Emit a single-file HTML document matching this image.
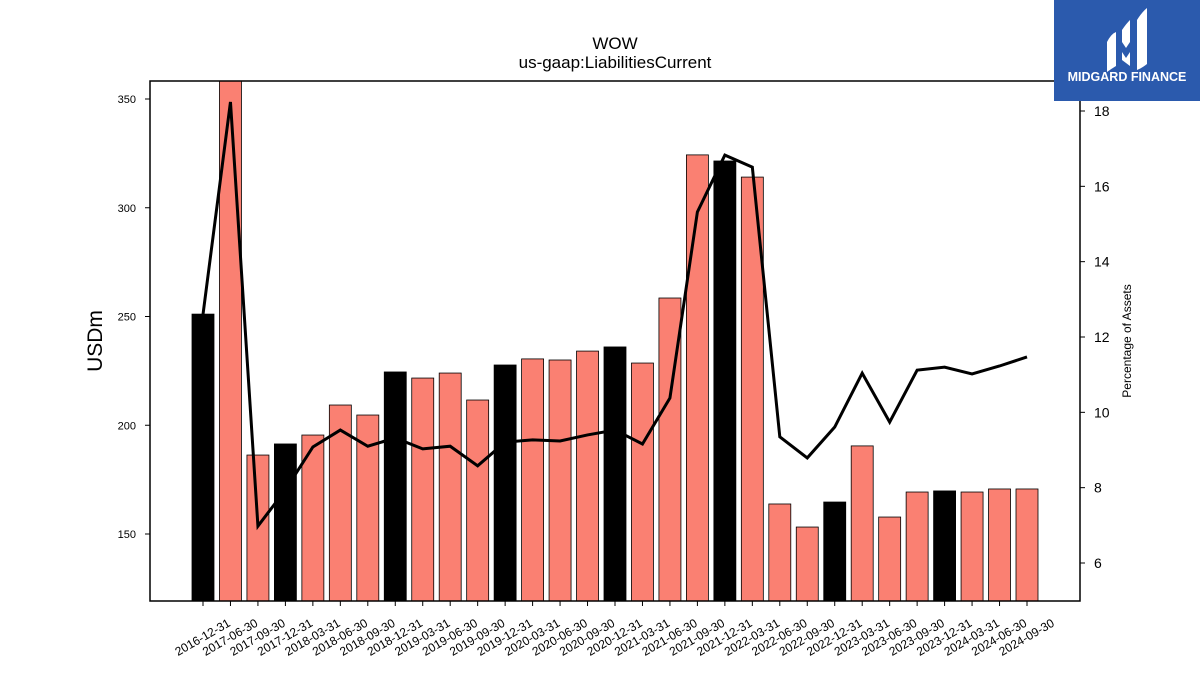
<!DOCTYPE html>
<html><head><meta charset="utf-8"><style>
body{margin:0;background:#fff;}
svg text{font-family:"Liberation Sans","DejaVu Sans",sans-serif;}
</style></head><body>
<svg id="c" width="1200" height="675" xmlns="http://www.w3.org/2000/svg">
<text x="615" y="49" font-size="17" text-anchor="middle">WOW</text>
<text x="615" y="68" font-size="17" text-anchor="middle">us-gaap:LiabilitiesCurrent</text>
<text transform="translate(102,341) rotate(-90)" font-size="21" text-anchor="middle">USDm</text>
<text transform="translate(1131,341) rotate(-90)" font-size="12" text-anchor="middle">Percentage of Assets</text>
<g id="bars"></g>
<g id="ticks"></g>
<polyline id="line" fill="none" stroke="#000" stroke-width="3"/>
<rect x="150" y="81" width="930" height="520" fill="none" stroke="#000" stroke-width="1.5"/>
<g>
<rect x="1054" y="0" width="146" height="101" fill="#2b5aad"/>
<path d="M1107 42 q4-8 9-10 v34 q-5 3-9 6z M1122 30 q4-6 8-10 v22 l-4 6 -4-6z M1122 52 l4 6 4-6 v14 l-8-6z M1137 20 q5-8 10-12 v56 q-5 4-10 6z" fill="#fff"/>
<text x="1127" y="81" font-size="12.5" font-weight="bold" fill="#fff" text-anchor="middle">MIDGARD FINANCE</text>
</g>
</svg>
<script>
const categories=["2016-12-31","2017-06-30","2017-09-30","2017-12-31","2018-03-31","2018-06-30","2018-09-30","2018-12-31","2019-03-31","2019-06-30","2019-09-30","2019-12-31","2020-03-31","2020-06-30","2020-09-30","2020-12-31","2021-03-31","2021-06-30","2021-09-30","2021-12-31","2022-03-31","2022-06-30","2022-09-30","2022-12-31","2023-03-31","2023-06-30","2023-09-30","2023-12-31","2024-03-31","2024-06-30","2024-09-30"];
const liabilities=[251.1,362,186.3,191.4,195.5,209.3,204.7,224.5,221.7,224,211.6,227.7,230.5,230,234.1,236,228.6,258.5,324.3,321.5,314.1,163.8,153.2,164.7,190.5,157.8,169.3,169.8,169.3,170.7,170.7];
const pctAssets=[12.6,18.24,6.98,7.94,9.08,9.53,9.1,9.32,9.03,9.1,8.58,9.21,9.27,9.24,9.4,9.53,9.16,10.38,15.32,16.83,16.51,9.35,8.79,9.61,11.04,9.74,11.12,11.2,11.02,11.23,11.47];
const isYearEnd=[1,0,0,1,0,0,0,1,0,0,0,1,0,0,0,1,0,0,0,1,0,0,0,1,0,0,0,1,0,0,0];
const leftTicks=[150,200,250,300,350];
const rightTicks=[6,8,10,12,14,16,18];
const NS="http://www.w3.org/2000/svg";
const X0=150,X1=1080,Y0=81,Y1=601;
const yL=v=>534-(v-150)*435/200;
const yR=v=>563-(v-6)*452/12;
const xs=i=>203+i*(1027-203)/(categories.length-1);
function mk(t,a,p){const e=document.createElementNS(NS,t);for(const k in a)e.setAttribute(k,a[k]);(p||document.getElementById('c')).appendChild(e);return e;}
const bars=document.getElementById('bars');
categories.forEach((c,i)=>{
  const top=Math.max(Y0,yL(liabilities[i]));
  const r=mk('rect',{x:xs(i)-11,y:top,width:22,height:Y1-top,fill:isYearEnd[i]?'#000':'#fa8072',stroke:'#000','stroke-width':0.8},bars);
  
  
  const tk=mk('line',{x1:xs(i),x2:xs(i),y1:Y1,y2:Y1+5,stroke:'#000'});
  
  
  const t=mk('text',{transform:`translate(${xs(i)},${638}) rotate(-30)`,'font-size':12,'text-anchor':'middle','dominant-baseline':'middle'});
  t.textContent=c;
  
  
});
leftTicks.forEach(v=>{
  const l=mk('line',{x1:X0-5,x2:X0,y1:yL(v),y2:yL(v),stroke:'#000'});
  
  
  const t=mk('text',{x:X0-14,y:yL(v)+4,'font-size':11,'text-anchor':'end'});
  t.textContent=v;
  
  
});
rightTicks.forEach(v=>{
  const l=mk('line',{x1:X1,x2:X1+5,y1:yR(v),y2:yR(v),stroke:'#000'});
  
  
  const t=mk('text',{x:X1+14,y:yR(v)+5,'font-size':14});
  t.textContent=v;
  
  
});
document.getElementById('line').setAttribute('points',pctAssets.map((v,i)=>xs(i)+','+yR(v)).join(' '));
</script>
</body></html>
